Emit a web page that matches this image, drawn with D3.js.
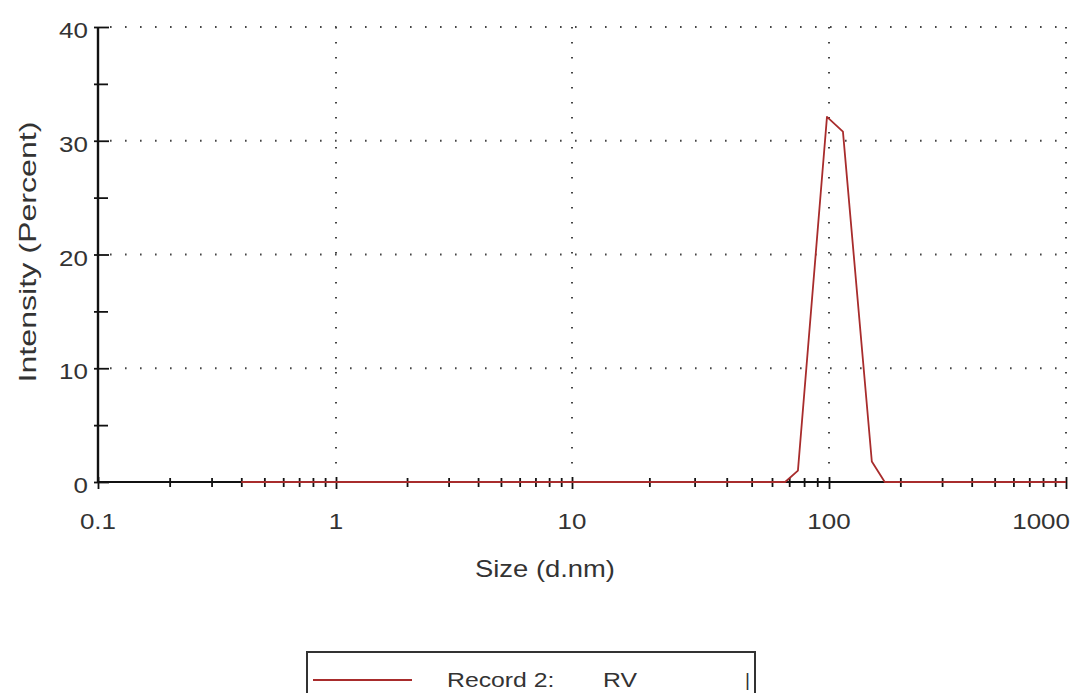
<!DOCTYPE html>
<html>
<head>
<meta charset="utf-8">
<script src="https://cdn.jsdelivr.net/npm/d3@7"></script>
<style>
  body { margin: 0; background: #fff; }
  text { font-family: "Liberation Sans", Arial, sans-serif; fill: #333; }
</style>
</head>
<body>
<script>
// size distribution by intensity
var sizes = [0.4, 1, 10, 50, 67.5, 75.7, 98.2, 114.5, 151.6, 171.9, 500, 1000];
var intensity = [0, 0, 0, 0, 0, 1.0, 32.1, 30.8, 1.8, 0, 0, 0];

var xMajor = [0.1, 1, 10, 100, 1000];
var xTickLabels = ["0.1", "1", "10", "100", "1000"];
var yMajor = [0, 10, 20, 30, 40];
var yTickLabels = ["0", "10", "20", "30", "40"];
var yMinor = [5, 15, 25, 35];
var legendLabel = "Record 2:";
var legendName = "RV";

var W = 1080, H = 693;
var stretch = 1.18;

var svg = d3.select("body").append("svg")
    .attr("width", W)
    .attr("height", H);

// the picture's decades are not quite even, so piecewise log
var x_scale = d3.scaleLog()
    .domain(xMajor)
    .range([98, 336, 572, 829, 1066]);

var y_scale = d3.scaleLinear()
    .domain([0, 40])
    .range([482, 27]);

var xMinor = [];
xMajor.slice(0, -1).forEach(function (d) {
    for (var k = 2; k < 10; k++) xMinor.push(d * k);
});

function widen(sel, k) {
    sel.each(function () {
        var len = this.getComputedTextLength();
        d3.select(this).attr("textLength", len * k).attr("lengthAdjust", "spacingAndGlyphs");
    });
}

// dotted grid
var grid = svg.append("g").attr("stroke", "#444").attr("stroke-width", 2)
    .attr("stroke-dasharray", "1.6,13.4").attr("fill", "none");

grid.selectAll("line.h").data(yMajor.slice(1)).enter().append("line")
    .attr("class", "h")
    .attr("x1", x_scale(0.1) + 12).attr("x2", x_scale(1000))
    .attr("y1", function (d) { return y_scale(d); })
    .attr("y2", function (d) { return y_scale(d); });

grid.selectAll("line.v").data(xMajor.slice(1)).enter().append("line")
    .attr("class", "v")
    .attr("x1", function (d) { return x_scale(d); })
    .attr("x2", function (d) { return x_scale(d); })
    .attr("y1", y_scale(40)).attr("y2", y_scale(0) - 6);

// axes
var axisColor = "#111";

var xAxisMajor = d3.axisBottom(x_scale).tickValues(xMajor).tickSize(12).tickFormat("");
var xAxisMinor = d3.axisBottom(x_scale).tickValues(xMinor).tickSize(9).tickFormat("");

var gxMaj = svg.append("g").attr("transform", "translate(0," + (y_scale(0) - 5) + ")").call(xAxisMajor);
var gxMin = svg.append("g").attr("transform", "translate(0," + (y_scale(0) - 4) + ")").call(xAxisMinor);

var yAxisMajor = d3.axisRight(y_scale).tickValues(yMajor).tickSize(15).tickFormat("");
var yAxisMinor = d3.axisRight(y_scale).tickValues(yMinor).tickSize(14).tickFormat("");

var gyMaj = svg.append("g").attr("transform", "translate(" + (x_scale(0.1) - 4) + ",0)").call(yAxisMajor);
var gyMin = svg.append("g").attr("transform", "translate(" + (x_scale(0.1) - 4) + ",0)").call(yAxisMinor);

[gxMaj, gxMin, gyMaj, gyMin].forEach(function (g) {
    g.select(".domain").remove();
    g.selectAll("line").attr("stroke", axisColor).attr("stroke-width", 1.8);
});

svg.append("line")
    .attr("x1", x_scale(0.1)).attr("x2", x_scale(1000))
    .attr("y1", y_scale(0)).attr("y2", y_scale(0))
    .attr("stroke", axisColor).attr("stroke-width", 2.2);

svg.append("line")
    .attr("x1", x_scale(0.1)).attr("x2", x_scale(0.1))
    .attr("y1", y_scale(40)).attr("y2", y_scale(0))
    .attr("stroke", axisColor).attr("stroke-width", 2.4);

// tick labels
var yl = svg.selectAll("text.ytl").data(yMajor).enter().append("text")
    .attr("class", "ytl")
    .attr("x", x_scale(0.1) - 10)
    .attr("y", function (d) { return y_scale(d) + 11; })
    .attr("text-anchor", "end")
    .attr("font-size", 22)
    .text(function (d, i) { return yTickLabels[i]; });
widen(yl, stretch);

var xl = svg.selectAll("text.xtl").data(xMajor).enter().append("text")
    .attr("class", "xtl")
    .attr("x", function (d, i) { return i === xMajor.length - 1 ? x_scale(d) + 4 : x_scale(d); })
    .attr("y", 529)
    .attr("text-anchor", function (d, i) { return i === xMajor.length - 1 ? "end" : "middle"; })
    .attr("font-size", 22)
    .text(function (d, i) { return xTickLabels[i]; });
widen(xl, stretch);

// axis titles
svg.append("text")
    .attr("x", 545).attr("y", 577)
    .attr("text-anchor", "middle")
    .attr("font-size", 24)
    .attr("textLength", 140).attr("lengthAdjust", "spacingAndGlyphs")
    .text("Size (d.nm)");

svg.append("text")
    .attr("transform", "translate(36,252) rotate(-90)")
    .attr("text-anchor", "middle")
    .attr("font-size", 24)
    .attr("textLength", 261).attr("lengthAdjust", "spacingAndGlyphs")
    .text("Intensity (Percent)");

// data line
var pts = sizes.map(function (s, i) { return { s: s, v: intensity[i] }; });
var line = d3.line()
    .x(function (d) { return x_scale(d.s); })
    .y(function (d) { return y_scale(d.v); });

svg.append("path")
    .datum(pts)
    .attr("d", line)
    .attr("fill", "none")
    .attr("stroke", "#a82c2c")
    .attr("stroke-width", 1.8)
    .attr("stroke-linejoin", "round");

// legend
var lg = svg.append("g");
lg.append("rect")
    .attr("x", 307).attr("y", 652)
    .attr("width", 448).attr("height", 60)
    .attr("fill", "none")
    .attr("stroke", "#333").attr("stroke-width", 2);
lg.append("line")
    .attr("x1", 313).attr("x2", 412)
    .attr("y1", 680).attr("y2", 680)
    .attr("stroke", "#a82c2c").attr("stroke-width", 1.8);
var t1 = lg.append("text").attr("x", 447).attr("y", 687).attr("font-size", 21).text(legendLabel);
var t2 = lg.append("text").attr("x", 603).attr("y", 687).attr("font-size", 21).text(legendName);
widen(t1, 1.18);
widen(t2, 1.18);
lg.append("text").attr("x", 745).attr("y", 686).attr("font-size", 19).text("|");
</script>
</body>
</html>
